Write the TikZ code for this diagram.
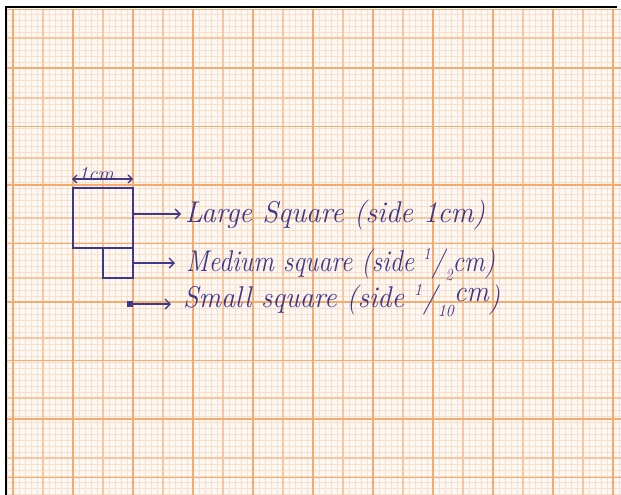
\documentclass[tikz,border=0pt]{standalone}
\usepackage{graphicx}
\usetikzlibrary{arrows.meta,calc}

\definecolor{paper}{RGB}{253,247,246}
\definecolor{gfinec}{RGB}{252,222,198}
\definecolor{gmidc}{RGB}{249,198,156}
\definecolor{gmajc}{RGB}{245,170,110}
\definecolor{ink}{RGB}{62,56,138}

% small slanted fraction used in the labels
\newcommand\slfrac[2]{\raisebox{0.4em}{\fontsize{17}{17}\selectfont #1}\kern1pt/\kern1pt\raisebox{-0.3em}{\fontsize{17}{17}\selectfont #2}}

\begin{document}
\begin{tikzpicture}[x=1pt,y=-1pt,
  gfine/.style={gfinec, line width=0.8pt},
  gmid/.style={gmidc, line width=1.1pt},
  gmajor/.style={gmajc, line width=1.6pt},
  sq/.style={draw=ink, line width=1.6pt, inner sep=0pt, outer sep=0pt},
  pointer/.style={ink, line width=1.3pt, -{Straight Barb[length=5pt,width=10pt]}},
  handtext/.style={text=ink, anchor=base west, inner sep=0pt, font=\fontsize{30}{32}\selectfont\itshape},
]
\useasboundingbox (0,0) rectangle (621,495);
\fill[white] (0,0) rectangle (621,495);

% graph paper
\fill[paper] (7,9) rectangle (621,495);
\foreach \x in {7,13,...,619} \draw[gfine] (\x,9) -- (\x,495);
\foreach \y in {14,20,...,494} \draw[gfine] (7,\y) -- (621,\y);
\foreach \x in {43,103,...,583} \draw[gmid] (\x,9) -- (\x,495);
\foreach \y in {38,98,...,458} \draw[gmid] (7,\y) -- (621,\y);
\foreach \x in {13,73,...,613} \draw[gmajor] (\x,9) -- (\x,495);
\foreach \y in {9.5,68,...,488} \draw[gmajor] (7,\y) -- (621,\y);
\draw[black, line width=1.2pt] (6,495) -- (6,7) -- (617,7);

% the three squares
\node[sq, minimum size=60pt] (large) at (103,218) {};
\node[sq, minimum size=30pt] (medium) at (118,263) {};
\node[sq, fill=ink, minimum size=5pt] (small) at (130,304) {};
% pen blot at the lower right corner of the large square
\draw[ink, line width=2.6pt] ($(large.south east)+(0,-8)$) -- (large.south east);

% width marker of the large square
\coordinate (dimL) at (72,179);
\coordinate (dimR) at (133,179);
\draw[pointer, {Straight Barb[length=4pt,width=8pt]}-{Straight Barb[length=4pt,width=8pt]}] (dimL) -- (dimR);
\node[text=ink, anchor=base, inner sep=0pt, font=\fontsize{20}{22}\selectfont\itshape] (dim) at (96,180) {\resizebox{36pt}{\height}{1cm}};

% labels
\node[handtext] (t1) at (185,222) {\resizebox{300pt}{\height}{Large Square (side 1cm)}};
\node[handtext] (t2) at (186,271) {\resizebox{309pt}{\height}{Medium square (side \slfrac{1}{2}cm)}};
\node[handtext] (t3) at (183,307) {\resizebox{317pt}{\height}{Small square (side \slfrac{1}{10}\raisebox{0.2em}{cm})}};

\draw[pointer] ($(large.east)+(0,-4)$) -- ($(large.east -| t1.west)+(-4,-4)$);
\draw[pointer] (medium.east) -- ($(medium.east -| t2.west)+(-11,0)$);
\draw[pointer] (small.east) -- ($(small.east -| t3.west)+(-12,0)$);
\end{tikzpicture}
\end{document}
